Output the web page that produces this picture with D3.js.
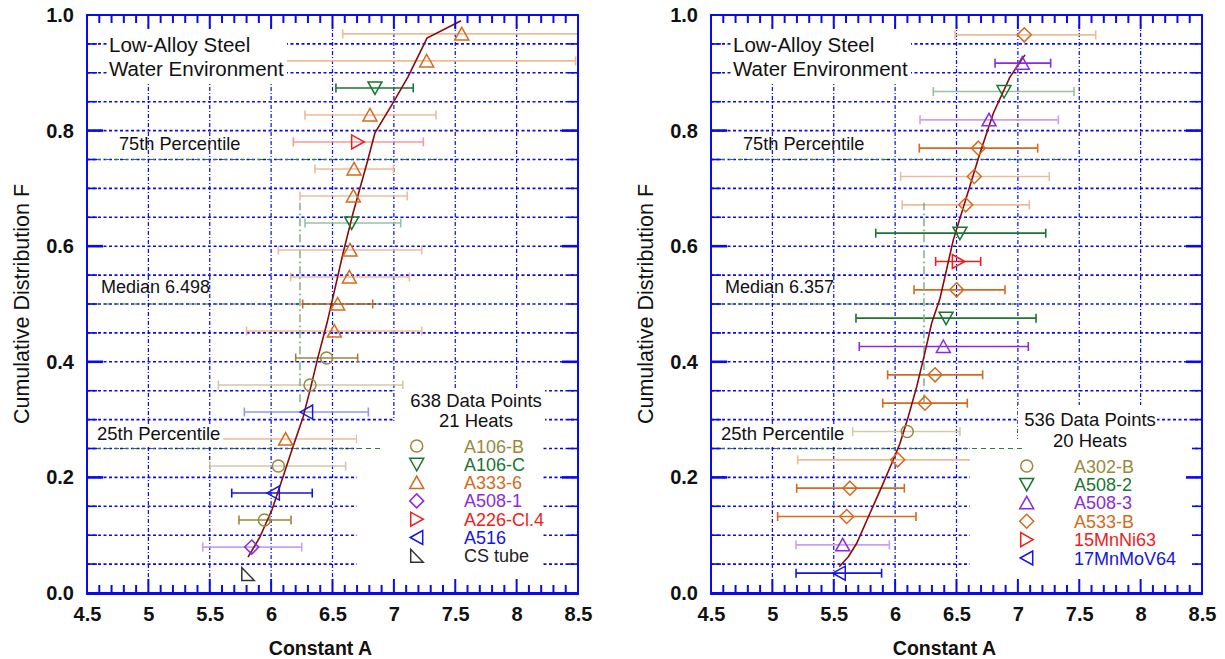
<!DOCTYPE html>
<html><head><meta charset="utf-8">
<script src="https://cdn.jsdelivr.net/npm/d3@7"></script>
<style>
body{margin:0;background:#fff}
svg{display:block}
text{font-family:"Liberation Sans",Arial,Helvetica,sans-serif}
</style>
</head><body>
<svg id="c" width="1225" height="659"></svg>
<script>
// ---------------- DATA ----------------
const xTicks = [4.5, 5, 5.5, 6, 6.5, 7, 7.5, 8, 8.5];
const yTicks = [0, 0.2, 0.4, 0.6, 0.8, 1.0];

// Left panel: 21 heats, ranked
const leftHeat = ["CS tube","A508-1","A106-B","A516","A106-B","A333-6","A516","A106-B","A106-B","A333-6","A333-6",
  "A333-6","A333-6","A106-C","A333-6","A333-6","A226-Cl.4","A333-6","A106-C","A333-6","A333-6"];
const leftA    = [5.81,5.842,5.945,6.018,6.059,6.118,6.289,6.317,6.452,6.515,6.542,6.637,6.643,6.656,6.67,6.675,6.705,6.805,6.846,7.267,7.553];
const leftLow  = [null,5.443,5.738,5.679,5.502,5.55,5.782,5.57,6.20,5.80,6.257,6.159,6.059,6.276,6.235,6.357,6.181,6.276,6.528,6.0,6.583];
const leftHigh = [null,6.249,6.162,6.335,6.607,6.697,6.792,7.072,6.705,7.227,6.827,7.126,7.227,7.056,7.109,6.996,7.24,7.343,7.158,8.48,8.75];
const leftSolid= [1,0,1,1,0,0,0,0,1,0,1,0,0,0,0,0,0,0,1,0,0];
const leftFitA = [5.812,5.909,6.007,6.097,6.178,6.26,6.317,6.382,6.455,6.504,6.586,6.667,6.781,6.846,6.993,7.115,7.27,7.547];
const leftFitF = [0.062,0.097,0.144,0.201,0.253,0.304,0.351,0.408,0.467,0.512,0.588,0.657,0.744,0.796,0.848,0.893,0.960,0.990];
const leftLegend = ["A106-B","A106-C","A333-6","A508-1","A226-Cl.4","A516","CS tube"];
const leftCount = ["638 Data Points","21 Heats"];
const leftMedian = "Median 6.498";

// Right panel: 20 heats, ranked
const rightHeat = ["17MnMoV64","A508-3","A533-B","A533-B","A533-B","A302-B","A533-B","A533-B","A508-3","A508-2",
  "A533-B","15MnNi63","A508-2","A533-B","A533-B","A533-B","A508-3","A508-2","A508-3","A533-B"];
const rightA    = [5.545,5.573,5.605,5.632,6.021,6.099,6.243,6.325,6.393,6.415,6.501,6.515,6.528,6.575,6.645,6.678,6.765,6.887,7.036,7.052];
const rightLow  = [5.193,5.193,5.043,5.198,5.206,5.654,5.899,5.939,5.708,5.681,6.154,6.33,5.842,6.058,6.045,6.197,6.203,6.311,6.814,6.488];
const rightHigh = [5.89,5.953,6.17,6.075,6.70,6.528,6.588,6.713,7.085,7.148,6.895,6.697,7.227,7.093,7.256,7.161,7.33,7.457,7.267,7.634];
const rightSolid= [1,0,1,1,0,0,1,1,1,1,1,1,1,0,0,1,0,0,1,0];
const rightFitA = [5.545,5.619,5.687,5.795,5.891,5.972,6.04,6.107,6.176,6.235,6.298,6.366,6.474,6.583,6.691,6.8,6.936,7.058];
const rightFitF = [0.0455,0.0628,0.086,0.138,0.184,0.224,0.259,0.305,0.357,0.409,0.467,0.51,0.611,0.686,0.761,0.83,0.893,0.931];
const rightLegend = ["A302-B","A508-2","A508-3","A533-B","15MnNi63","17MnMoV64"];
const rightCount = ["536 Data Points","20 Heats"];
const rightMedian = "Median 6.357";

const percentileF = [0.75, 0.5, 0.25];
const leftPercentileEnd = [7.43, 7.0, 6.89];
const rightPercentileEnd = [7.42, 7.0, 7.04];
const refLineA = 6.235, refLineF = [0.33, 0.675];

// ---------------- STYLE ----------------
const matStyle = {
  "A106-B":{shape:"circle",color:"#9a883a"},
  "A302-B":{shape:"circle",color:"#9a883a"},
  "A106-C":{shape:"down",color:"#1a7432"},
  "A508-2":{shape:"down",color:"#1a7432"},
  "A333-6":{shape:"up",color:"#d56a1c"},
  "A508-3":{shape:"up",color:"#8a2be2"},
  "A508-1":{shape:"diamond",color:"#8a2be2"},
  "A533-B":{shape:"diamond",color:"#d56a1c"},
  "A226-Cl.4":{shape:"right",color:"#f01c1c"},
  "15MnNi63":{shape:"right",color:"#f01c1c"},
  "A516":{shape:"left",color:"#1515e0"},
  "17MnMoV64":{shape:"left",color:"#1515e0"},
  "CS tube":{shape:"rtri",color:"#333333"}
};
const BLUE = "#0a0af0";
const GREEN = "#2d7d3f";
function fade(c){ return d3.interpolateRgb(c, "#ffffff")(0.55); }
function shapePath(s){
  switch(s){
    case "up": return "M0,-6.5L7,6L-7,6Z";
    case "down": return "M0,6.5L7,-6L-7,-6Z";
    case "right": return "M6.5,0L-6,-7L-6,7Z";
    case "left": return "M-6.5,0L6,-7L6,7Z";
    case "diamond": return "M0,-7L7,0L0,7L-7,0Z";
    case "rtri": return "M-6,-6.5L-6,6.5L6.5,6.5Z";
    default: return d3.symbol(d3.symbolCircle, 113)();
  }
}

const svg = d3.select("#c");
const TOP = 15, BOT = 593;

function panel(cfg){
  const x = d3.scaleLinear().domain([4.5, 8.5]).range([cfg.x0, cfg.x1]);
  const y = d3.scaleLinear().domain([0, 1]).range([BOT, TOP]);
  const g = svg.append("g");
  const clipId = "clip" + cfg.id;
  svg.append("clipPath").attr("id", clipId).append("rect")
    .attr("x", cfg.x0).attr("y", TOP).attr("width", cfg.x1 - cfg.x0).attr("height", BOT - TOP);

  // grid
  const hF = d3.range(1, 20).map(i => i * 0.05);
  g.selectAll(".hg").data(hF).join("line")
    .attr("x1", cfg.x0).attr("x2", cfg.x1).attr("y1", d => y(d)).attr("y2", d => y(d))
    .attr("stroke", BLUE).attr("stroke-width", 1.6).attr("stroke-dasharray", "3,2.5");
  const vA = d3.range(1, 8).map(i => 4.5 + i * 0.5);
  g.selectAll(".vg").data(vA).join("line")
    .attr("x1", d => x(d)).attr("x2", d => x(d)).attr("y1", TOP).attr("y2", BOT)
    .attr("stroke", BLUE).attr("stroke-width", 1.2).attr("stroke-dasharray", "4,2,1,2");

  // error bars
  const pts = cfg.heat.map((h, i) => ({
    h, a: cfg.A[i], lo: cfg.lo[i], hi: cfg.hi[i], solid: cfg.solid[i],
    f: (i + 1 - 0.3) / (cfg.heat.length + 0.4)
  }));
  const eb = g.append("g").attr("clip-path", `url(#${clipId})`);
  pts.filter(p => p.lo != null).forEach(p => {
    const col = p.solid ? matStyle[p.h].color : fade(matStyle[p.h].color);
    const yy = y(p.f);
    eb.append("line").attr("x1", x(p.lo)).attr("x2", x(p.hi)).attr("y1", yy).attr("y2", yy)
      .attr("stroke", col).attr("stroke-width", 1.6);
    [p.lo, p.hi].forEach(v => eb.append("line").attr("x1", x(v)).attr("x2", x(v))
      .attr("y1", yy - 4.5).attr("y2", yy + 4.5).attr("stroke", col).attr("stroke-width", 1.6));
  });

  // white annotation boxes
  const boxes = [
    [cfg.x0 + 20, 30, 180, 52],
    [cfg.txtBox[0], cfg.txtBox[1], cfg.txtBox[2], cfg.txtBox[3]],
    [cfg.legBox[0], cfg.legBox[1], cfg.legBox[2], cfg.legBox[3]],
    [cfg.x0 + 8, 425, 128, 21]
  ];
  g.selectAll(".box").data(boxes).join("rect")
    .attr("x", d => d[0]).attr("y", d => d[1]).attr("width", d => d[2]).attr("height", d => d[3])
    .attr("fill", "#fff");

  // percentile lines
  g.selectAll(".pl").data(percentileF).join("line")
    .attr("x1", cfg.x0).attr("x2", (d, i) => x(cfg.pEnd[i]))
    .attr("y1", d => y(d)).attr("y2", d => y(d))
    .attr("stroke", GREEN).attr("stroke-width", 1.2).attr("stroke-dasharray", "5,4");
  g.append("line").attr("x1", x(refLineA)).attr("x2", x(refLineA))
    .attr("y1", y(refLineF[0])).attr("y2", y(refLineF[1]))
    .attr("stroke", "#7fb08a").attr("stroke-width", 1.5).attr("stroke-dasharray", "8,3,2,3");

  // fit curve
  g.append("path").datum(cfg.fitA.map((a, i) => [a, cfg.fitF[i]]))
    .attr("d", d3.line().x(d => x(d[0])).y(d => y(d[1])))
    .attr("fill", "none").attr("stroke", "#8b0a0a").attr("stroke-width", 1.6);

  // markers
  g.selectAll(".mk").data(pts).join("path")
    .attr("transform", p => `translate(${x(p.a)},${y(p.f)})`)
    .attr("d", p => shapePath(matStyle[p.h].shape))
    .attr("fill", "none").attr("stroke", p => matStyle[p.h].color).attr("stroke-width", 1.5);

  // texts
  const T = (tx, ty, s, size, opts = {}) => g.append("text").attr("x", tx).attr("y", ty)
      .attr("font-size", size).attr("fill", opts.fill || "#111")
      .attr("text-anchor", opts.anchor || "start").attr("font-weight", opts.weight || "normal").text(s);
  T(cfg.x0 + 22, 52, "Low-Alloy Steel", 20.5);
  T(cfg.x0 + 22, 76, "Water Environment", 20.5);
  T(cfg.x0 + 32, 150, "75th Percentile", 18.2);
  T(cfg.x0 + 14, 293, cfg.median, 18);
  T(cfg.x0 + 10, 440, "25th Percentile", 18.5);
  T(cfg.countX, cfg.countY[0], cfg.count[0], 18.5, {anchor:"middle"});
  T(cfg.countX, cfg.countY[1], cfg.count[1], 18.5, {anchor:"middle"});

  // legend
  cfg.legend.forEach((name, i) => {
    const yy = cfg.legY0 + i * cfg.legDy;
    g.append("path").attr("transform", `translate(${cfg.legMX},${yy})`)
      .attr("d", shapePath(matStyle[name].shape)).attr("fill", "none")
      .attr("stroke", matStyle[name].color).attr("stroke-width", 1.5);
    T(cfg.legTX, yy + 6.5, name, 18, {fill: name === "CS tube" ? "#222" : matStyle[name].color});
  });

  // frame and ticks
  const tk = g.append("g").attr("stroke", BLUE);
  const minorA = d3.range(1, 40).map(i => 4.5 + i * 0.1);
  minorA.forEach(a => {
    const major = Math.abs((a * 2) - Math.round(a * 2)) < 1e-6;
    const L = major ? 14 : 8;
    tk.append("line").attr("x1", x(a)).attr("x2", x(a)).attr("y1", BOT).attr("y2", BOT - L).attr("stroke-width", 2);
    tk.append("line").attr("x1", x(a)).attr("x2", x(a)).attr("y1", TOP).attr("y2", TOP + L).attr("stroke-width", 2);
  });
  hF.forEach(f => {
    const major = Math.abs(f * 5 - Math.round(f * 5)) < 1e-6;
    const L = major ? 16 : 10, w = major ? 2.6 : 1.6;
    tk.append("line").attr("x1", cfg.x0).attr("x2", cfg.x0 + L).attr("y1", y(f)).attr("y2", y(f)).attr("stroke-width", w);
    tk.append("line").attr("x1", cfg.x1).attr("x2", cfg.x1 - L).attr("y1", y(f)).attr("y2", y(f)).attr("stroke-width", w);
  });
  g.append("rect").attr("x", cfg.x0).attr("y", TOP).attr("width", cfg.x1 - cfg.x0).attr("height", BOT - TOP)
    .attr("fill", "none").attr("stroke", BLUE).attr("stroke-width", 2);
  g.append("line").attr("x1", cfg.x0 - 1).attr("x2", cfg.x1 + 1).attr("y1", BOT + 0.5).attr("y2", BOT + 0.5)
    .attr("stroke", BLUE).attr("stroke-width", 3);

  // axes labels
  const xa = g.append("g").attr("transform", `translate(0,${BOT})`)
    .call(d3.axisBottom(x).tickValues(xTicks).tickSize(0).tickPadding(14).tickFormat(d3.format("")));
  xa.select(".domain").remove();
  xa.selectAll("text").attr("font-size", 20).attr("font-weight", "bold").attr("fill", "#111")
    .attr("font-family", "'Liberation Sans',Arial,sans-serif");
  const ya = g.append("g").attr("transform", `translate(${cfg.x0},0)`)
    .call(d3.axisLeft(y).tickValues(yTicks).tickSize(0).tickPadding(13).tickFormat(d3.format(".1f")));
  ya.select(".domain").remove();
  ya.selectAll("text").attr("font-size", 20).attr("font-weight", "bold").attr("fill", "#111")
    .attr("font-family", "'Liberation Sans',Arial,sans-serif");

  T((cfg.x0 + cfg.x1) / 2 - 12, 655, "Constant A", 19.5, {anchor:"middle", weight:"bold"});
  g.append("text").attr("transform", `translate(${cfg.x0 - 58},${(TOP + BOT) / 2}) rotate(-90)`)
    .attr("text-anchor", "middle").attr("font-size", 21.5).attr("fill", "#111")
    .text("Cumulative Distribution F");
}

panel({id:"L", x0:87, x1:578, heat:leftHeat, A:leftA, lo:leftLow, hi:leftHigh, solid:leftSolid,
  fitA:leftFitA, fitF:leftFitF, legend:leftLegend, count:leftCount, median:leftMedian, pEnd:leftPercentileEnd,
  txtBox:[395, 389, 150, 44], legBox:[357, 421, 186, 170], countX:476, countY:[406.5, 427],
  legMX:416.7, legTX:464, legY0:446, legDy:18.3});
panel({id:"R", x0:711, x1:1202, heat:rightHeat, A:rightA, lo:rightLow, hi:rightHigh, solid:rightSolid,
  fitA:rightFitA, fitF:rightFitF, legend:rightLegend, count:rightCount, median:rightMedian, pEnd:rightPercentileEnd,
  txtBox:[1018, 405, 139, 46], legBox:[970, 439, 222, 152], countX:1090, countY:[426, 447],
  legMX:1026.7, legTX:1074, legY0:466, legDy:18.4});
</script>
</body></html>
